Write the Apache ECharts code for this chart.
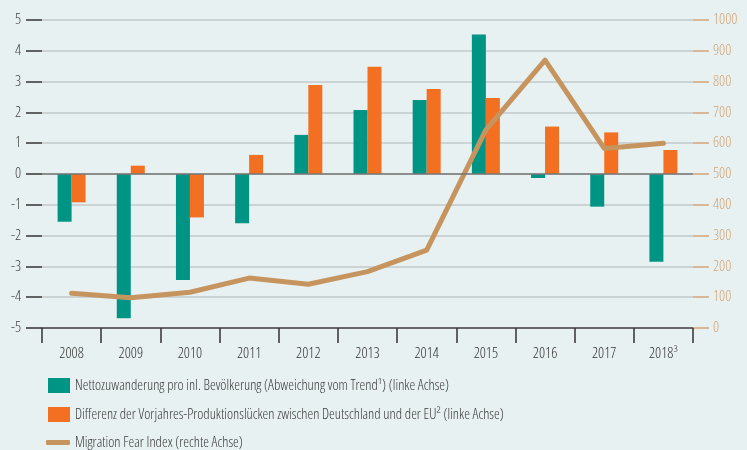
<!DOCTYPE html>
<html>
<head>
<meta charset="utf-8">
<script src="https://cdn.jsdelivr.net/npm/echarts@6/dist/echarts.min.js"></script>
<style>
  html, body { margin: 0; padding: 0; background: #e8f1f1; }
  #chart { width: 747px; height: 450px; }
</style>
</head>
<body>
<div id="chart"></div>
<script>
var years = ["2008", "2009", "2010", "2011", "2012", "2013", "2014", "2015", "2016", "2017", "2018³"];
var netMigration = [-1.55, -4.68, -3.44, -1.6, 1.27, 2.08, 2.4, 4.53, -0.13, -1.06, -2.85];
var outputGapDiff = [-0.92, 0.27, -1.41, 0.62, 2.89, 3.48, 2.76, 2.47, 1.54, 1.35, 0.78];
var fearIndex = [113, 98, 116, 162, 142, 183, 253, 643, 870, 583, 600];

var nameNet = "Nettozuwanderung pro inl. Bevölkerung (Abweichung vom Trend¹) (linke Achse)";
var nameGap = "Differenz der Vorjahres-Produktionslücken zwischen Deutschland und der EU² (linke Achse)";
var nameFear = "Migration Fear Index (rechte Achse)";

// Open Sans is a variable font here, "condensed" narrows it like the original face
var font = "'Open Sans', sans-serif";
var weight = "350 condensed";
var teal = "#009485", orange = "#f36f21", tan = "#c6955f";

var chart = echarts.init(document.getElementById("chart"));
chart.setOption({
    backgroundColor: "#e8f1f1",
    textStyle: { fontFamily: font, fontWeight: weight },
    animation: false,
    grid: { left: 42, right: 54, top: 20, bottom: 122, outerBoundsMode: "none", containLabel: false },
    legend: [{
        data: [nameNet, nameGap],
        orient: "vertical",
        left: 43,
        top: 373,
        itemWidth: 22,
        itemHeight: 15,
        itemGap: 14,
        icon: "rect",
        textStyle: { fontFamily: font, fontWeight: weight, fontSize: 14.5, color: "#3a3a3a" }
    }, {
        data: [nameFear],
        orient: "vertical",
        left: 41,
        top: 430,
        itemWidth: 24,
        itemHeight: 5,
        icon: "roundRect",
        textStyle: { fontFamily: font, fontWeight: weight, fontSize: 14.5, color: "#3a3a3a" }
    }],
    xAxis: {
        type: "category",
        data: years,
        axisLine: { show: true, onZero: false, lineStyle: { color: "#444", width: 1.5 } },
        axisTick: { show: true, interval: 0, alignWithLabel: false, length: 15, lineStyle: { color: "#333", width: 1.5 } },
        axisLabel: { color: "#333", fontFamily: font, fontWeight: weight, fontSize: 15, margin: 18 }
    },
    yAxis: [{
        type: "value",
        min: -5, max: 5, interval: 1,
        axisLine: { show: false },
        axisTick: { show: true, length: 16, lineStyle: { color: "#333", width: 1.5 } },
        axisLabel: { color: "#444", fontFamily: font, fontWeight: weight, fontSize: 15, margin: 21 },
        splitLine: { lineStyle: { color: "#c3c8ca", width: 1.5 } }
    }, {
        type: "value",
        min: 0, max: 1000, interval: 100,
        position: "right",
        axisLine: { show: false },
        axisTick: { show: true, length: 16, lineStyle: { color: "#d2a578", width: 1.5 } },
        axisLabel: {
            color: "#d2a578", fontFamily: font, fontWeight: weight, fontSize: 15, margin: 20,
            formatter: function (v) { return String(v); }
        },
        splitLine: { show: false }
    }],
    series: [{
        name: nameNet,
        type: "bar",
        data: netMigration,
        barWidth: 14,
        barGap: "0%",
        itemStyle: { color: teal },
        markLine: {
            silent: true,
            symbol: "none",
            label: { show: false },
            lineStyle: { color: "#777", width: 1.5, type: "solid" },
            data: [{ yAxis: 0 }]
        }
    }, {
        name: nameGap,
        type: "bar",
        data: outputGapDiff,
        barWidth: 14,
        itemStyle: { color: orange }
    }, {
        name: nameFear,
        type: "line",
        yAxisIndex: 1,
        data: fearIndex,
        showSymbol: false,
        symbol: "none",
        itemStyle: { color: tan },
        lineStyle: { color: tan, width: 5, cap: "round", join: "round" }
    }]
});
</script>
</body>
</html>
